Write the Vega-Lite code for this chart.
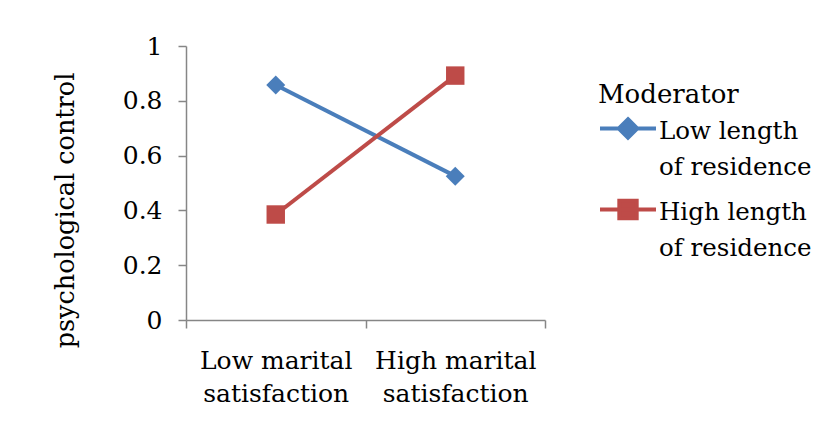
{
  "$schema": "https://vega.github.io/schema/vega-lite/v6.json",
  "width": 359,
  "height": 274,
  "autosize": "none",
  "padding": {"left": 186, "top": 46, "right": 293, "bottom": 101},
  "background": "white",
  "config": {
    "view": {"stroke": null},
    "font": "DejaVu Serif",
    "axis": {"labelFont": "DejaVu Serif", "titleFont": "DejaVu Serif"},
    "legend": {"labelFont": "DejaVu Serif", "titleFont": "DejaVu Serif"}
  },
  "data": {"values": [
    {"sat": "Low marital satisfaction", "series": "Low length of residence", "value": 0.858},
    {"sat": "High marital satisfaction", "series": "Low length of residence", "value": 0.525},
    {"sat": "Low marital satisfaction", "series": "High length of residence", "value": 0.385},
    {"sat": "High marital satisfaction", "series": "High length of residence", "value": 0.892}
  ]},
  "encoding": {
    "x": {
      "field": "sat", "type": "nominal",
      "sort": ["Low marital satisfaction", "High marital satisfaction"],
      "scale": {"type": "band", "paddingInner": 0, "paddingOuter": 0},
      "axis": {
        "title": null, "labelAngle": 0, "tickBand": "extent",
        "domainColor": "#868686", "tickColor": "#868686", "domainWidth": 1.5, "tickWidth": 1.5,
        "tickSize": 8, "labelFontSize": 25, "labelColor": "black", "labelPadding": 40,
        "labelBaseline": "alphabetic", "labelLineHeight": 33, "labelOverlap": false,
        "labelExpr": "datum.label ? [replace(datum.label, ' satisfaction', ''), 'satisfaction'] : ''"
      }
    },
    "y": {
      "field": "value", "type": "quantitative",
      "scale": {"domain": [0, 1]},
      "axis": {
        "values": [0, 0.2, 0.4, 0.6, 0.8, 1], "grid": false, "format": ".1~f",
        "title": "psychological control", "titleFontSize": 25.5, "titleFontWeight": "normal",
        "titleColor": "black", "titleX": -121, "titleY": 164, "titleAngle": 270,
        "titleAlign": "center", "titleBaseline": "middle",
        "domainColor": "#868686", "tickColor": "#868686", "domainWidth": 1.5, "tickWidth": 1.5,
        "tickSize": 8, "labelFontSize": 25, "labelColor": "black", "labelPadding": 16
      }
    },
    "color": {
      "field": "series", "type": "nominal",
      "scale": {"domain": ["Low length of residence", "High length of residence"], "range": ["#4A7EBB", "#BE4B48"]},
      "legend": {
        "orient": "none", "legendX": 412, "legendY": 36, "padding": 0,
        "title": "Moderator", "titleFontSize": 26, "titleFontWeight": "normal", "titleColor": "black",
        "titlePadding": -9.5,
        "labelFontSize": 24.5, "labelColor": "black", "labelBaseline": "alphabetic",
        "labelOffset": 1, "labelLimit": 300,
        "labelExpr": "[replace(datum.label, ' of residence', ''), 'of residence']",
        "symbolSize": 3136, "rowPadding": -7,
        "encode": {
          "symbols": {"update": {
            "shape": {"signal": "datum.value == 'Low length of residence' ? 'M-1,0H1M0,-0.33L0.33,0L0,0.33L-0.33,0Z' : 'M-1,0H1M-0.31,-0.31H0.31V0.31H-0.31Z'"},
            "fill": {"signal": "datum.value == 'Low length of residence' ? '#4A7EBB' : '#BE4B48'"},
            "stroke": {"signal": "datum.value == 'Low length of residence' ? '#4A7EBB' : '#BE4B48'"},
            "strokeWidth": {"value": 4},
            "opacity": {"value": 1},
            "fillOpacity": {"value": 1}
          }},
          "labels": {"update": {"dy": {"value": 10}, "lineHeight": {"value": 36}}}
        }
      }
    }
  },
  "layer": [
    {"mark": {"type": "line", "strokeWidth": 4}},
    {
      "transform": [{"filter": "datum.series == 'Low length of residence'"}],
      "mark": {"type": "point", "shape": "diamond", "filled": true, "opacity": 1, "size": 360}
    },
    {
      "transform": [{"filter": "datum.series == 'High length of residence'"}],
      "mark": {"type": "point", "shape": "square", "filled": true, "opacity": 1, "size": 340}
    }
  ]
}
